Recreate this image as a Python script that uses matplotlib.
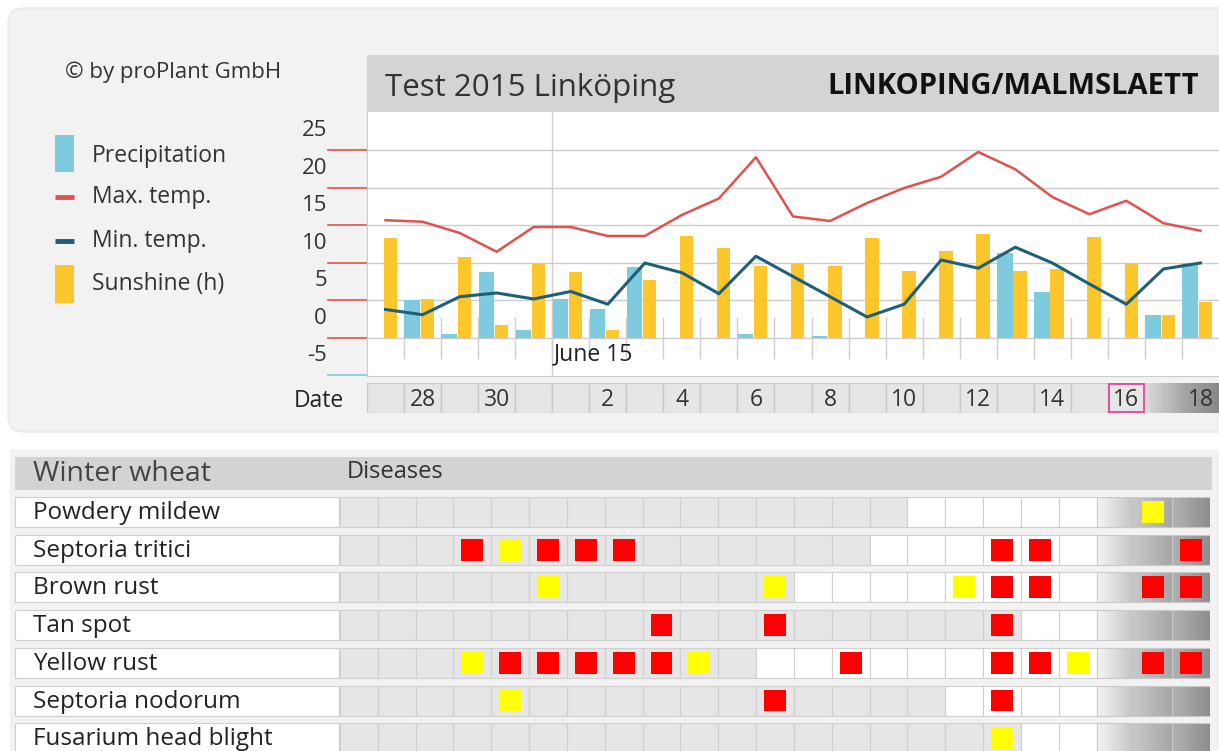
import numpy as np
import matplotlib
matplotlib.use("Agg")
import matplotlib.pyplot as plt
import matplotlib.transforms as mtransforms
from matplotlib.patches import Rectangle, FancyBboxPatch
from matplotlib.colors import to_rgb

plt.rcParams['font.family'] = ['Open Sans', 'DejaVu Sans']

# ---- weather data, 27 May .. 18 June 2015 ----
day_numbers = [27, 28, 29, 30, 31, 1, 2, 3, 4, 5, 6, 7, 8, 9, 10, 11, 12, 13, 14, 15, 16, 17, 18]
date_labels = ['', '28', '', '30', '', '', '2', '', '4', '', '6', '', '8', '', '10', '', '12', '', '14', '', '16', '', '18']
max_temp = [15.7, 15.5, 14.0, 11.5, 14.8, 14.8, 13.6, 13.6, 16.4, 18.6, 24.1, 16.2, 15.6, 18.0, 20.0,
            21.5, 24.8, 22.5, 18.8, 16.5, 18.3, 15.3, 14.3]
min_temp = [3.8, 3.1, 5.5, 6.0, 5.2, 6.2, 4.5, 10.0, 8.7, 5.9, 10.9, 8.2, 5.5, 2.8, 4.5,
            10.4, 9.3, 12.1, 10.0, 7.2, 4.5, 9.2, 10.0]
sunshine = [13.3, 5.2, 10.8, 1.7, 10.0, 8.8, 1.0, 7.7, 13.6, 12.0, 9.6, 10.0, 9.6, 13.3, 8.9,
            11.6, 13.8, 8.9, 9.2, 13.5, 10.0, 3.1, 4.8]
precip = [0, 5.1, 0.5, 8.8, 1.0, 5.2, 3.8, 9.4, 0, 0, 0.5, 0, 0.3, 0, 0,
          0, 0, 11.3, 6.1, 0, 0, 3.1, 10.0]
y_ticks = [-5, 0, 5, 10, 15, 20, 25]
month_start = 5        # index of June 1
today_idx = 20         # June 16

# ---- disease table: '.' none, 'y' yellow, 'r' red ----
diseases = ['Powdery mildew', 'Septoria tritici', 'Brown rust', 'Tan spot',
            'Yellow rust', 'Septoria nodorum', 'Fusarium head blight']
risk = ['.....................y.',
        '...ryrrr.........rr...r',
        '.....y.....y....yrr..rr',
        '........r..r.....r.....',
        '...yrrrrry...r...rry.rr',
        '....y......r.....r.....',
        '.................y.....']
forecast_from = [15, 14, 12, 18, 11, 16, 18]

c_precip = '#7ecbe0'
c_sun = '#fdc62b'
c_max = '#e0524f'
c_min = '#1d5f78'
c_grid = '#cccccc'

W, H = 1219, 751
fig = plt.figure(figsize=(W / 100, H / 100), dpi=100)
fig.patch.set_facecolor('white')


def px_axes(x0, y0, x1, y1, **kw):
    return fig.add_axes([x0 / W, 1 - y1 / H, (x1 - x0) / W, (y1 - y0) / H], **kw)


def gradient_cell(axis, x0, y0, w, h, c1, c2, n=24):
    a, b = np.array(to_rgb(c1)), np.array(to_rgb(c2))
    for k in range(n):
        t = k / (n - 1)
        axis.add_patch(Rectangle((x0 + k * w / n, y0), w / n * 1.05, h,
                                 fc=a + (b - a) * t, ec='none', lw=0, zorder=1))


# background / decoration axes in pixel coordinates
bg = px_axes(0, 0, W, H)
bg.set_xlim(0, W)
bg.set_ylim(H, 0)
bg.axis('off')
bg.add_patch(FancyBboxPatch((8, 8), 1300, 424, boxstyle='round,pad=0,rounding_size=16',
                            fc='#f2f2f2', ec='#e4e4e4', lw=0.8))
bg.add_patch(Rectangle((10, 449), 1300, 400, fc='#f2f2f2', ec='none'))
bg.add_patch(Rectangle((367, 55), 860, 57, fc='#d4d4d4', ec='none'))
bg.text(385, 88, 'Test 2015 Linköping', fontsize=22.5, color='#333333', va='center')
bg.text(1199, 87, 'LINKOPING/MALMSLAETT', fontsize=21, fontweight='bold', color='#111111',
        va='center', ha='right')
bg.text(65, 72, '© by proPlant GmbH', fontsize=16, color='#333333', va='center')

# legend
bg.add_patch(Rectangle((55, 135), 19, 37, fc=c_precip, ec='none'))
bg.text(92, 156, 'Precipitation', fontsize=16.5, color='#333333', va='center')
bg.plot([55, 74], [197, 197], color=c_max, lw=3.5, solid_capstyle='butt')
bg.text(92, 197, 'Max. temp.', fontsize=16.5, color='#333333', va='center')
bg.plot([55, 74], [241, 241], color=c_min, lw=3.5, solid_capstyle='butt')
bg.text(92, 241, 'Min. temp.', fontsize=16.5, color='#333333', va='center')
bg.add_patch(Rectangle((55, 265), 19, 38, fc=c_sun, ec='none'))
bg.text(92, 284, 'Sunshine (h)', fontsize=16.5, color='#333333', va='center')
bg.text(344, 401, 'Date', fontsize=16.5, color='#222222', va='center', ha='right')

# ---- weather chart ----
ax = px_axes(367, 112, 1219, 376)
ax.set_xlim(-0.5, len(day_numbers) - 0.5)
ax.set_ylim(-5.07, 30.13)
ax.set_facecolor('white')
for s in ['top', 'right']:
    ax.spines[s].set_visible(False)
for s in ['left', 'bottom']:
    ax.spines[s].set_color(c_grid)
ax.set_xticks([])
ax.set_yticks([])

x = np.arange(len(day_numbers))
for v in y_ticks[1:]:
    ax.axhline(v, color=c_grid, lw=1, zorder=1)
ax.axvline(month_start - 0.5, color=c_grid, lw=1, zorder=1)
for b in x[:-1] + 0.5:
    ax.plot([b, b], [-2.67, 2.67], color='#cfcfcf', lw=1, zorder=1)

ax.bar(x - 0.49, precip, width=0.42, align='edge', color=c_precip, zorder=2)
ax.bar(x - 0.05, sunshine, width=0.36, align='edge', color=c_sun, zorder=2)
ax.plot(x, max_temp, color=c_max, lw=1.8, zorder=3)
ax.plot(x, min_temp, color=c_min, lw=2.2, zorder=3)
ax.text(month_start - 0.45, -2.15, 'June 15', fontsize=16.5, color='#222222', va='center')

# y labels and coloured tick marks left of the plot
trans = mtransforms.blended_transform_factory(ax.transAxes, ax.transData)
for v in y_ticks:
    col = c_precip if v < 0 else c_max
    ax.plot([-39 / 852, 0], [v, v], color=col, lw=1.2, transform=trans, clip_on=False)
    ax.text(-40 / 852, v + 2.6, str(v), transform=trans, ha='right', va='center',
            fontsize=16, color='#333333')

# ---- date row ----
dx = px_axes(367, 383, 1219, 413)
dx.set_xlim(-0.5, len(day_numbers) - 0.5)
dx.set_ylim(0, 1)
dx.axis('off')
grad_date = [('#dadada', '#a9a9a9'), ('#a5a5a5', '#888888')]
for i, lab in enumerate(date_labels):
    if i > today_idx:
        c1, c2 = grad_date[i - today_idx - 1]
        gradient_cell(dx, i - 0.5, 0, 1, 1, c1, c2)
    else:
        dx.add_patch(Rectangle((i - 0.5, 0), 1, 1, fc='#e6e6e6', ec='#c9c9c9', lw=1, zorder=1))
    if i == today_idx:
        dx.add_patch(Rectangle((i - 0.47, 0.04), 0.94, 0.92, fc='none', ec='#e0489a', lw=1.3, zorder=3))
    dx.text(i, 0.45, lab, ha='center', va='center', fontsize=16.5, color='#333333', zorder=4)

# ---- disease table ----
bg.add_patch(Rectangle((15, 457), 1197, 33, fc='#d3d3d3', ec='none'))
bg.text(33, 474, 'Winter wheat', fontsize=20.5, color='#444444', va='center')
bg.text(347, 472, 'Diseases', fontsize=17, color='#333333', va='center')

row_pitch = 37.7
for r, name in enumerate(diseases):
    top = 497 + r * row_pitch
    bg.add_patch(Rectangle((15, top), 324, 30, fc='white', ec='#cfcfcf', lw=0.8))
    bg.text(33, top + 16, name, fontsize=17.5, color='#222222', va='center')

tx = px_axes(340, 497, 1210, 751)
tx.set_xlim(-0.5, len(day_numbers) - 0.5)
rows_visible = (751 - 497) / row_pitch
tx.set_ylim(rows_visible, 0)
tx.axis('off')
cell_h = 30 / row_pitch
grad_tab = [('#f4f4f4', '#c4c4c4'), ('#c6c6c6', '#a6a6a6'), ('#b0b0b0', '#8e8e8e')]
for r, codes in enumerate(risk):
    for i, c in enumerate(codes):
        if i >= today_idx:
            c1, c2 = grad_tab[i - today_idx]
            gradient_cell(tx, i - 0.5, r, 1, cell_h, c1, c2)
            tx.add_patch(Rectangle((i - 0.5, r), 1, cell_h, fc='none', ec='#c9c9c9', lw=0.8, zorder=2))
        else:
            fc = 'white' if i >= forecast_from[r] else '#e6e6e6'
            tx.add_patch(Rectangle((i - 0.5, r), 1, cell_h, fc=fc, ec='#cfcfcf', lw=0.8, zorder=1))
        if c != '.':
            mc = '#ff0000' if c == 'r' else '#ffff00'
            tx.add_patch(Rectangle((i - 0.29, r + cell_h / 2 - 0.29), 0.58, 0.58,
                                   fc=mc, ec='none', zorder=3))

fig.savefig('out.png', dpi=100)
